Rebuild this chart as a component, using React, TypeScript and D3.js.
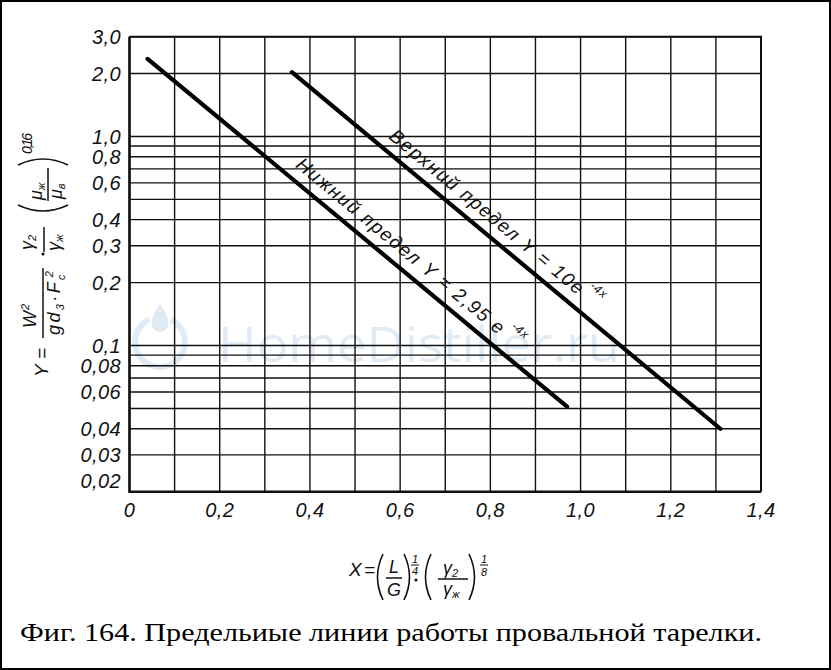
import { useEffect, useRef } from 'react';
import * as d3 from 'd3';

interface Pt {
  x: number;
  y: number;
}

// grid & ticks
const xGrid = [0, 0.1, 0.2, 0.3, 0.4, 0.5, 0.6, 0.7, 0.8, 0.9, 1.0, 1.1, 1.2, 1.3, 1.4];
const xTicks = [0, 0.2, 0.4, 0.6, 0.8, 1.0, 1.2, 1.4];
const xTickLabels = ['0', '0,2', '0,4', '0,6', '0,8', '1,0', '1,2', '1,4'];
const yGrid = [3, 2, 1, 0.9, 0.8, 0.7, 0.6, 0.5, 0.4, 0.3, 0.2, 0.1, 0.09, 0.08, 0.07, 0.06, 0.05, 0.04, 0.03, 0.02];
const yTicks = [3, 2, 1, 0.8, 0.6, 0.4, 0.3, 0.2, 0.1, 0.08, 0.06, 0.04, 0.03, 0.02];
const yTickLabels = ['3,0', '2,0', '1,0', '0,8', '0,6', '0,4', '0,3', '0,2', '0,1', '0,08', '0,06', '0,04', '0,03', '0,02'];

// the two limit lines
const lowerLimit: Pt[] = [{ x: 0.04, y: 2.35 }, { x: 0.97, y: 0.051 }];
const upperLimit: Pt[] = [{ x: 0.36, y: 2.03 }, { x: 1.31, y: 0.04 }];

const upperLabel = 'Верхний  предел  Y = 10e';
const lowerLabel = 'Нижний  предел  Y = 2,95 e';
const exponentLabel = '-4x';
const caption = 'Фиг. 164. Предельиые линии работы провальной тарелки.';
const watermark = 'HomeDistiller.ru';

const W = 831;
const H = 670;

export default function App() {
  const svgRef = useRef<SVGSVGElement>(null);

  useEffect(() => {
    if (!svgRef.current) return;
    const svg = d3.select(svgRef.current);
    svg.selectAll('*').remove();

    const ink = '#111';
    const draft = '"Liberation Sans Narrow", "Liberation Sans", Arial, sans-serif';

    svg.append('rect').attr('width', W).attr('height', H).attr('fill', '#fff');

    const x = d3.scaleLinear().domain([0, 1.4]).range([129.5, 761]);
    const y = d3.scaleLog().domain([0.02, 3]).range([491.7, 36.7]);

    // faint watermark
    const wmColor = '#e0ebf6';
    const wm = svg.append('g');
    wm.append('path')
      .attr('transform', 'translate(160,342)')
      .attr('fill', wmColor)
      .attr('d', (d3.arc() as any)({ innerRadius: 22, outerRadius: 28, startAngle: 0.45, endAngle: 2 * Math.PI - 0.45 }));
    wm.append('path')
      .attr('fill', wmColor)
      .attr('d', 'M160,304 C152,316 150,322 153,328 C156,333 164,333 167,328 C170,322 168,316 160,304 Z');
    wm.append('text')
      .attr('x', 218)
      .attr('y', 362)
      .attr('font-family', '"Open Sans", "Liberation Sans", sans-serif')
      .attr('font-size', 50)
      .attr('fill', wmColor)
      .attr('textLength', 402)
      .attr('lengthAdjust', 'spacingAndGlyphs')
      .text(watermark);

    // grid
    const grid = svg.append('g').attr('stroke', ink).attr('stroke-width', 1.4);
    grid.selectAll('line.h')
      .data(yGrid)
      .join('line')
      .attr('class', 'h')
      .attr('x1', x(0))
      .attr('x2', x(1.4))
      .attr('y1', d => y(d))
      .attr('y2', d => y(d));
    grid.selectAll('line.v')
      .data(xGrid)
      .join('line')
      .attr('class', 'v')
      .attr('x1', d => x(d))
      .attr('x2', d => x(d))
      .attr('y1', y(3))
      .attr('y2', y(0.02));

    // frame: heavier on left and bottom
    svg.append('path')
      .attr('fill', 'none')
      .attr('stroke', ink)
      .attr('stroke-width', 2.6)
      .attr('d', `M${x(0)},${y(3)} V${y(0.02)} H${x(1.4)}`);
    svg.append('path')
      .attr('fill', 'none')
      .attr('stroke', ink)
      .attr('stroke-width', 2)
      .attr('d', `M${x(0)},${y(3)} H${x(1.4)} V${y(0.02)}`);

    // limit lines
    const line = d3.line<Pt>().x(d => x(d.x)).y(d => y(d.y));
    [lowerLimit, upperLimit].forEach(pts => {
      svg.append('path')
        .attr('d', line(pts) || '')
        .attr('fill', 'none')
        .attr('stroke', '#000')
        .attr('stroke-width', 4.2)
        .attr('stroke-linecap', 'round');
    });

    // labels along the lines
    const labelAlong = (pts: Pt[], start: number, length: number, offset: number, label: string, expStart: number, expOffset: number) => {
      const x0 = x(pts[0].x), y0 = y(pts[0].y);
      const x1 = x(pts[1].x), y1 = y(pts[1].y);
      const len = Math.hypot(x1 - x0, y1 - y0);
      const ux = (x1 - x0) / len, uy = (y1 - y0) / len;
      const angle = (Math.atan2(y1 - y0, x1 - x0) * 180) / Math.PI;
      const g = svg.append('g')
        .attr('transform', `translate(${x0 + ux * start},${y0 + uy * start}) rotate(${angle})`)
        .attr('font-family', draft)
        .attr('font-style', 'italic')
        .attr('fill', ink);
      g.append('text')
        .attr('x', 0)
        .attr('y', -offset)
        .attr('font-size', 19)
        .attr('textLength', length)
        .attr('lengthAdjust', 'spacing')
        .text(label);
      g.append('text')
        .attr('x', expStart - start)
        .attr('y', -expOffset)
        .attr('font-size', 12)
        .attr('textLength', 18)
        .attr('lengthAdjust', 'spacing')
        .text(exponentLabel);
    };
    labelAlong(upperLimit, 116, 246, 11, upperLabel, 366, 25);
    labelAlong(lowerLimit, 182, 264, 11, lowerLabel, 451, 25);

    // tick labels
    const ticks = svg.append('g')
      .attr('font-family', draft)
      .attr('font-style', 'italic')
      .attr('font-size', 20)
      .attr('letter-spacing', 0.4)
      .attr('fill', ink);
    ticks.selectAll('text.y')
      .data(yTicks)
      .join('text')
      .attr('class', 'y')
      .attr('x', 121)
      .attr('y', d => (d === 0.02 ? y(d) - 11 : y(d)))
      .attr('dy', '0.36em')
      .attr('text-anchor', 'end')
      .text((d, i) => yTickLabels[i]);
    ticks.selectAll('text.x')
      .data(xTicks)
      .join('text')
      .attr('class', 'x')
      .attr('x', d => x(d))
      .attr('y', 517)
      .attr('text-anchor', 'middle')
      .text((d, i) => xTickLabels[i]);

    const paren = (g: any, xa: number, xb: number, ya: number, yb: number) => {
      // xa = tip side, xb = bulge side
      g.append('path')
        .attr('fill', 'none')
        .attr('stroke', ink)
        .attr('stroke-width', 1.6)
        .attr('d', `M${xa},${ya} Q${xb},${(ya + yb) / 2} ${xa},${yb}`);
    };

    // y axis title (rotated formula)
    const yt = svg.append('g')
      .attr('transform', 'translate(44,255) rotate(-90)')
      .attr('font-family', draft)
      .attr('font-style', 'italic')
      .attr('fill', ink);
    yt.append('text').attr('x', -122).attr('y', 4).attr('font-size', 19).text('Y');
    yt.append('text').attr('x', -104).attr('y', 4).attr('font-size', 19).text('=');
    yt.append('line').attr('x1', -83).attr('x2', -13).attr('y1', -1).attr('y2', -1).attr('stroke', ink).attr('stroke-width', 1.5);
    const wNum = yt.append('text').attr('x', -73).attr('y', -8).attr('font-size', 18);
    wNum.append('tspan').text('W');
    wNum.append('tspan').attr('font-size', 11).attr('dy', -7).attr('dx', 1).text('2');
    const den = yt.append('text').attr('x', -80).attr('y', 16).attr('font-size', 18).attr('textLength', 64).attr('lengthAdjust', 'spacing');
    den.append('tspan').text('gd');
    den.append('tspan').attr('font-size', 11).attr('dy', 4).text('3');
    den.append('tspan').attr('dy', -4).text('·F');
    den.append('tspan').attr('font-size', 11).attr('dy', 5).text('c');
    den.append('tspan').attr('font-size', 11).attr('dx', -5).attr('dy', -12).text('2');
    yt.append('circle').attr('cx', 1).attr('cy', -1).attr('r', 1.6).attr('fill', ink);
    yt.append('line').attr('x1', 3).attr('x2', 28).attr('y1', 0).attr('y2', 0).attr('stroke', ink).attr('stroke-width', 1.5);
    const gNum = yt.append('text').attr('x', 5).attr('y', -11).attr('font-size', 18);
    gNum.append('tspan').text('γ');
    gNum.append('tspan').attr('font-size', 11).attr('dy', 3).text('2');
    const gDen = yt.append('text').attr('x', 4).attr('y', 16).attr('font-size', 18);
    gDen.append('tspan').text('γ');
    gDen.append('tspan').attr('font-size', 11).attr('dy', 3).text('ж');
    paren(yt, 50, 38, -26, 24);
    paren(yt, 90, 102, -26, 24);
    yt.append('line').attr('x1', 54).attr('x2', 87).attr('y1', 4).attr('y2', 4).attr('stroke', ink).attr('stroke-width', 1.5);
    const mNum = yt.append('text').attr('x', 55).attr('y', -2).attr('font-size', 18);
    mNum.append('tspan').text('μ');
    mNum.append('tspan').attr('font-size', 11).attr('dy', 3).text('ж');
    const mDen = yt.append('text').attr('x', 56).attr('y', 18).attr('font-size', 18);
    mDen.append('tspan').text('μ');
    mDen.append('tspan').attr('font-size', 11).attr('dy', 3).text('в');
    yt.append('text').attr('x', 101).attr('y', -12).attr('font-size', 14).attr('textLength', 21).attr('lengthAdjust', 'spacing').text('0,16');

    // x axis title
    const xt = svg.append('g')
      .attr('font-family', draft)
      .attr('font-style', 'italic')
      .attr('fill', ink);
    xt.append('text').attr('x', 349).attr('y', 576).attr('font-size', 19).text('X');
    xt.append('text').attr('x', 364).attr('y', 576).attr('font-size', 19).text('=');
    paren(xt, 383, 372, 554, 600);
    xt.append('text').attr('x', 394).attr('y', 573).attr('font-size', 18).attr('text-anchor', 'middle').text('L');
    xt.append('line').attr('x1', 386).attr('x2', 402).attr('y1', 578).attr('y2', 578).attr('stroke', ink).attr('stroke-width', 1.5);
    xt.append('text').attr('x', 394).attr('y', 596).attr('font-size', 18).attr('text-anchor', 'middle').text('G');
    paren(xt, 404, 415, 554, 600);
    xt.append('text').attr('x', 415).attr('y', 563).attr('font-size', 11).attr('text-anchor', 'middle').text('1');
    xt.append('line').attr('x1', 411).attr('x2', 419).attr('y1', 565).attr('y2', 565).attr('stroke', ink).attr('stroke-width', 1);
    xt.append('text').attr('x', 415).attr('y', 575).attr('font-size', 11).attr('text-anchor', 'middle').text('4');
    xt.append('circle').attr('cx', 416).attr('cy', 580).attr('r', 1.6).attr('fill', ink);
    paren(xt, 431, 420, 554, 600);
    const xg1 = xt.append('text').attr('x', 443).attr('y', 574).attr('font-size', 18);
    xg1.append('tspan').text('γ');
    xg1.append('tspan').attr('font-size', 11).attr('dy', 3).text('2');
    xt.append('line').attr('x1', 438).attr('x2', 468).attr('y1', 579).attr('y2', 579).attr('stroke', ink).attr('stroke-width', 1.5);
    const xg2 = xt.append('text').attr('x', 443).attr('y', 595).attr('font-size', 18);
    xg2.append('tspan').text('γ');
    xg2.append('tspan').attr('font-size', 11).attr('dy', 3).text('ж');
    paren(xt, 469, 480, 554, 600);
    xt.append('text').attr('x', 484).attr('y', 563).attr('font-size', 11).attr('text-anchor', 'middle').text('1');
    xt.append('line').attr('x1', 480).attr('x2', 488).attr('y1', 565).attr('y2', 565).attr('stroke', ink).attr('stroke-width', 1);
    xt.append('text').attr('x', 484).attr('y', 576).attr('font-size', 11).attr('text-anchor', 'middle').text('8');

    // caption
    svg.append('text')
      .attr('x', 20)
      .attr('y', 641)
      .attr('font-family', '"Liberation Serif", "DejaVu Serif", serif')
      .attr('font-size', 25)
      .attr('fill', '#000')
      .attr('textLength', 742)
      .attr('lengthAdjust', 'spacingAndGlyphs')
      .text(caption);

    // outer border of the figure
    svg.append('rect')
      .attr('x', 1)
      .attr('y', 1)
      .attr('width', W - 2)
      .attr('height', H - 2)
      .attr('fill', 'none')
      .attr('stroke', '#000')
      .attr('stroke-width', 2);
  }, []);

  return (
    <div style={{ position: 'absolute', left: 0, top: 0 }}>
      <svg ref={svgRef} width={W} height={H} style={{ display: 'block' }} />
    </div>
  );
}
